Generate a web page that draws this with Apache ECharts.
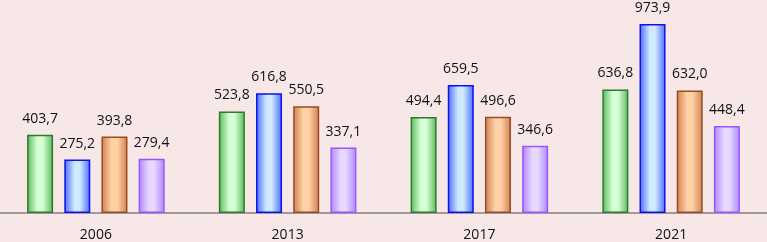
<!DOCTYPE html>
<html><head><meta charset="utf-8">
<script src="https://cdn.jsdelivr.net/npm/echarts@6/dist/echarts.min.js"></script>
<style>html,body{margin:0;padding:0;background:#f7e7e7;}#c{width:767px;height:242px;}</style>
</head><body><div id="c"></div>
<script>
const categories = ['2006', '2013', '2017', '2021'];
const seriesA = [403.7, 523.8, 494.4, 636.8];
const seriesB = [275.2, 616.8, 659.5, 973.9];
const seriesC = [393.8, 550.5, 496.6, 632.0];
const seriesD = [279.4, 337.1, 346.6, 448.4];

function grad(edge, light) {
  return new echarts.graphic.LinearGradient(0, 0, 1, 0, [
    {offset: 0, color: edge}, {offset: 0.4, color: light},
    {offset: 0.6, color: light}, {offset: 1, color: edge}
  ]);
}
const styles = [
  {data: seriesA, border: '#2c7a2c', edge: '#5cb85c', light: '#d6ffd6'},
  {data: seriesB, border: '#1010ee', edge: '#4a6cff', light: '#cfeaff'},
  {data: seriesC, border: '#9a4a24', edge: '#d0804e', light: '#ffd2a6'},
  {data: seriesD, border: '#9a55ff', edge: '#b085ff', light: '#e6d8ff'}
];
const chart = echarts.init(document.getElementById('c'));
chart.setOption({
  backgroundColor: '#f7e7e7',
  animation: false,
  grid: {left: 0, right: 0, top: 19, bottom: 28},
  xAxis: {
    type: 'category', data: categories,
    axisLine: {lineStyle: {color: '#808080', width: 1.5}},
    axisTick: {show: false},
    axisLabel: {color: '#111', fontSize: 14, fontFamily: 'Open Sans', margin: 15}
  },
  yAxis: {type: 'value', min: 0, max: 1000, show: false, splitLine: {show: false}},
  series: styles.map(s => ({
    type: 'bar', data: s.data, barWidth: 26, barGap: '43%',
    itemStyle: {color: grad(s.edge, s.light), borderColor: s.border, borderWidth: 1.5},
    label: {show: true, position: 'top', distance: 9, color: '#111', fontSize: 14, fontFamily: 'Open Sans',
      formatter: p => p.value.toFixed(1).replace('.', ',')}
  }))
});
</script></body></html>
